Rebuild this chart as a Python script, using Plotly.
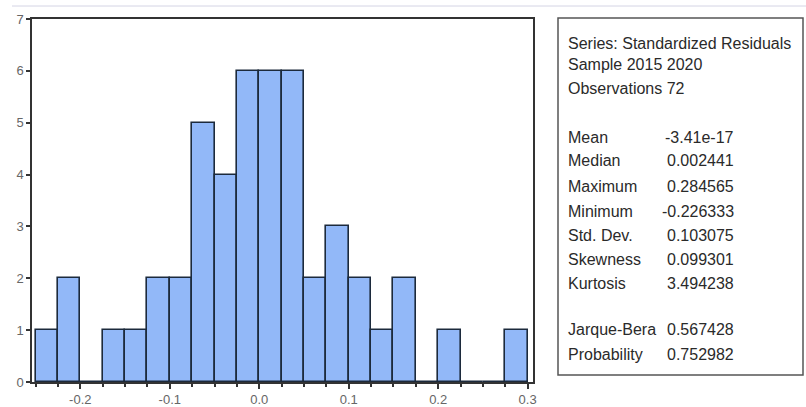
import plotly.graph_objects as go

# Histogram bins (center of each 0.025-wide bin) and counts
bin_centers = [-0.2375, -0.2125, -0.1875, -0.1625, -0.1375, -0.1125, -0.0875,
               -0.0625, -0.0375, -0.0125, 0.0125, 0.0375, 0.0625, 0.0875,
               0.1125, 0.1375, 0.1625, 0.1875, 0.2125, 0.2375, 0.2625, 0.2875]
counts = [1, 2, 0, 1, 1, 2, 2, 5, 4, 6, 6, 6, 2, 3, 2, 1, 2, 0, 1, 0, 0, 1]
bin_width = 0.025

x_ticks = [-0.2, -0.1, 0.0, 0.1, 0.2, 0.3]
x_tick_labels = ["-0.2", "-0.1", "0.0", "0.1", "0.2", "0.3"]
y_ticks = [0, 1, 2, 3, 4, 5, 6, 7]

header_lines = ["Series: Standardized Residuals", "Sample 2015 2020", "Observations 72"]
stat_names = ["Mean", "Median", "Maximum", "Minimum", "Std. Dev.", "Skewness", "Kurtosis"]
stat_values = ["-3.41e-17", "0.002441", "0.284565", "-0.226333", "0.103075", "0.099301", "3.494238"]
test_names = ["Jarque-Bera", "Probability"]
test_values = ["0.567428", "0.752982"]

W, H = 806, 407
L, R, T, B = 32, 533, 19, 382  # plot area in pixels


def px(x):
    return (x - L) / (R - L)


def py(y):
    return (B - y) / (B - T)


fig = go.Figure()
fig.add_trace(go.Bar(
    x=bin_centers, y=counts, width=bin_width,
    marker=dict(color="#92b8f8", line=dict(color="#1c2a3c", width=1.6)),
    showlegend=False,
))

fig.update_layout(
    width=W, height=H,
    margin=dict(l=L, r=W - R, t=T, b=H - B),
    paper_bgcolor="white", plot_bgcolor="white",
    bargap=0,
    font=dict(family="Liberation Sans, Arial, sans-serif", color="#555", size=13),
    xaxis=dict(
        range=[-0.254, 0.306], tickvals=x_ticks, ticktext=x_tick_labels,
        automargin=False,
        showgrid=False, zeroline=False, showline=True, linecolor="#333", linewidth=1.5,
        mirror=True, ticks="outside", ticklen=5, tickcolor="#333", tickwidth=1.5,
        minor=dict(dtick=bin_width, tick0=0, ticks="outside", ticklen=3, tickcolor="#333"),
        tickfont=dict(color="#666", size=13),
    ),
    yaxis=dict(
        range=[0, 7], tickvals=y_ticks, automargin=False,
        showgrid=False, zeroline=False, showline=True, linecolor="#333", linewidth=1.5,
        mirror=True, ticks="outside", ticklen=4, tickcolor="#333", tickwidth=1.5,
        tickfont=dict(color="#666", size=13),
    ),
)

shapes = []
# thin light line at top of image
shapes.append(dict(type="line", xref="paper", yref="paper", x0=px(12), x1=px(806),
                   y0=py(6), y1=py(6), line=dict(color="#d4d4e4", width=1)))
# stats box
shapes.append(dict(type="rect", xref="paper", yref="paper", x0=px(558), x1=px(803),
                   y0=py(375), y1=py(18), line=dict(color="#555", width=1.5),
                   fillcolor="white"))
fig.update_layout(shapes=shapes)

ann = []
txt_font = dict(family="Liberation Sans, Arial, sans-serif", size=16, color="#2a2a2a")
for i, line in enumerate(header_lines):
    yy = [43, 64, 88][i]
    ann.append(dict(xref="paper", yref="paper", x=px(566), y=py(yy), text=line,
                    showarrow=False, xanchor="left", yanchor="middle", font=txt_font))
stat_y = [137, 161, 186, 211, 235, 259, 283]
for name, val, yy in zip(stat_names, stat_values, stat_y):
    ann.append(dict(xref="paper", yref="paper", x=px(566), y=py(yy), text=name,
                    showarrow=False, xanchor="left", yanchor="middle", font=txt_font))
    ann.append(dict(xref="paper", yref="paper", x=px(736), y=py(yy), text=val,
                    showarrow=False, xanchor="right", yanchor="middle", font=txt_font))
for name, val, yy in zip(test_names, test_values, [329, 354]):
    ann.append(dict(xref="paper", yref="paper", x=px(566), y=py(yy), text=name,
                    showarrow=False, xanchor="left", yanchor="middle", font=txt_font))
    ann.append(dict(xref="paper", yref="paper", x=px(736), y=py(yy), text=val,
                    showarrow=False, xanchor="right", yanchor="middle", font=txt_font))
fig.update_layout(annotations=ann)

fig.write_html("out.html", config={"displayModeBar": False},
               post_script="document.body.style.margin='0';document.body.style.overflow='hidden';")
